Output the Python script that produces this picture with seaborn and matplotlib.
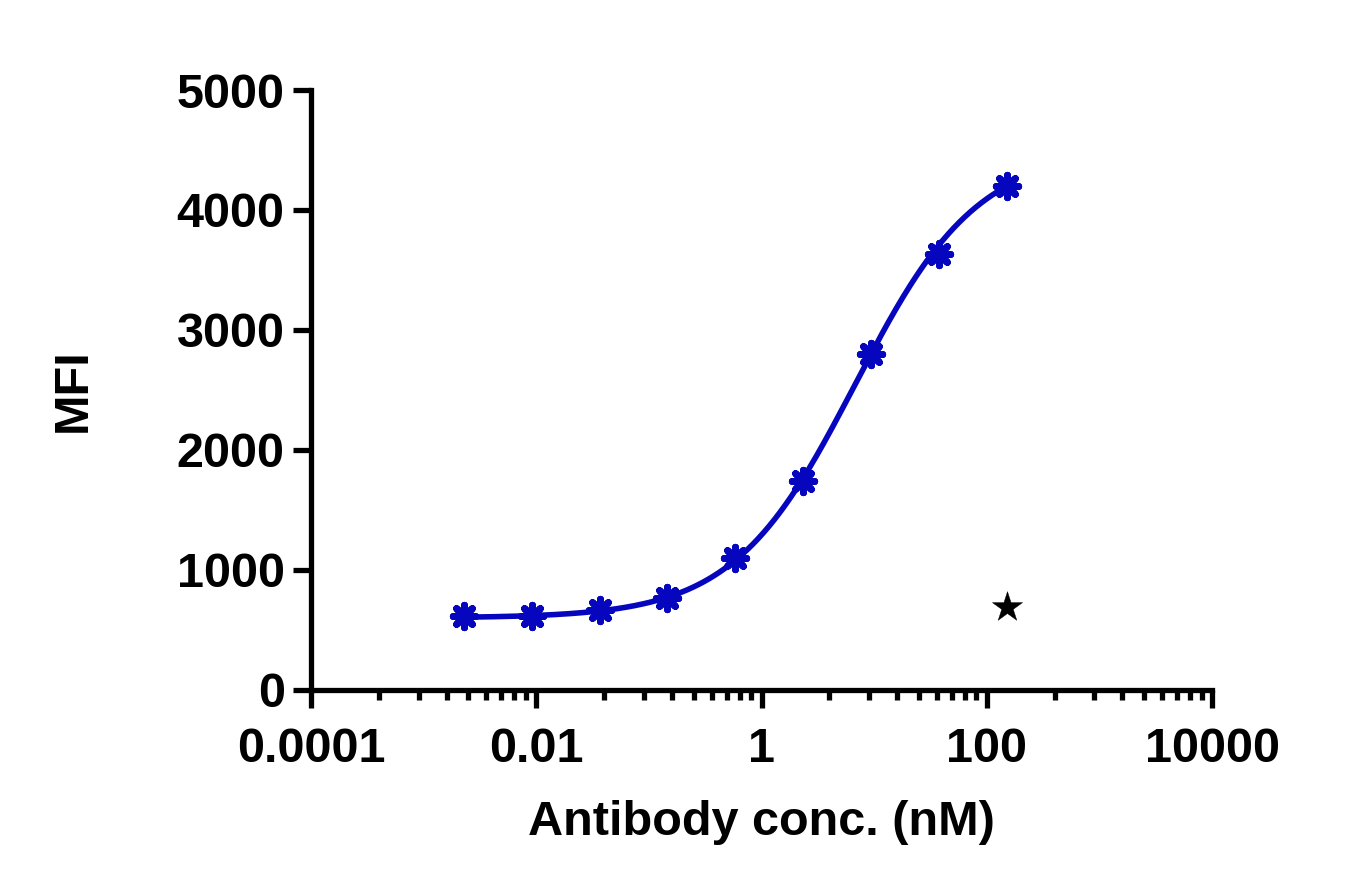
import numpy as np
import pandas as pd
import seaborn as sns
import matplotlib
matplotlib.use('Agg')
import matplotlib.pyplot as plt
from matplotlib.ticker import FixedLocator, NullFormatter

# antibody dilution series (nM) and measured MFI
conc = [150, 37.5, 9.375, 2.34, 0.586, 0.146, 0.0366, 0.00916, 0.00229]
mfi = [4200, 3633, 2800, 1742, 1100, 767, 667, 617, 617]

# control point
ctrl_conc = [150]
ctrl_mfi = [692]

# 4PL fit parameters
bottom, top, ec50, hill = 600, 4500, 6.8, 0.8

x_major = [0.0001, 0.01, 1, 100, 10000]
x_labels = ['0.0001', '0.01', '1', '100', '10000']
y_major = [0, 1000, 2000, 3000, 4000, 5000]

blue = '#0606BE'

sns.set_style('ticks')
plt.rcParams['font.family'] = ['Liberation Sans', 'DejaVu Sans']
plt.rcParams['font.weight'] = 'bold'
for k in ['text.color', 'axes.labelcolor', 'xtick.color', 'ytick.color', 'axes.edgecolor']:
    plt.rcParams[k] = 'black'

fig = plt.figure(figsize=(13.66, 8.92), dpi=100)
ax = fig.add_axes([0.2277, 0.2265, 0.6596, 0.6726])

xs = np.logspace(np.log10(min(conc)), np.log10(max(conc)), 300)
fit = pd.DataFrame({'x': xs, 'y': bottom + (top - bottom) / (1 + (ec50 / xs) ** hill)})
sns.lineplot(data=fit, x='x', y='y', ax=ax, color=blue, linewidth=4.0, zorder=2)

pts = pd.DataFrame({'x': conc, 'y': mfi})
sns.scatterplot(data=pts, x='x', y='y', ax=ax, marker=(8, 2, 0), s=260, color=blue,
                linewidth=5.0, zorder=3)
sns.scatterplot(data=pts, x='x', y='y', ax=ax, marker='o', s=70, color=blue,
                edgecolor=blue, linewidth=0, zorder=3)

sns.scatterplot(x=ctrl_conc, y=ctrl_mfi, ax=ax, marker='*', s=520, color='black',
                edgecolor='black', linewidth=0.3, zorder=3)

ax.set_xscale('log')
ax.set_xlim(0.0001, 10000)
ax.set_ylim(0, 5000)
ax.xaxis.set_major_locator(FixedLocator(x_major))
ax.set_xticklabels(x_labels)
minors = [10.0 ** (-4 + 2 * j) * k * k for j in range(4) for k in range(2, 10)]
ax.xaxis.set_minor_locator(FixedLocator(minors))
ax.xaxis.set_minor_formatter(NullFormatter())
ax.set_yticks(y_major)
ax.set_yticklabels([str(v) for v in y_major])

for s in ['top', 'right']:
    ax.spines[s].set_visible(False)
for s in ['left', 'bottom']:
    ax.spines[s].set_linewidth(3.8)
ax.spines['bottom'].set_bounds(0.0001, 10000)

ax.tick_params(axis='both', which='major', length=13, width=3.8, labelsize=35, pad=6)
ax.tick_params(axis='x', which='major', pad=14)
ax.tick_params(axis='x', which='minor', length=7, width=3.8)
for lab in ax.get_xticklabels() + ax.get_yticklabels():
    lab.set_fontweight('bold')

ax.set_xlabel('Antibody conc. (nM)', fontsize=35, fontweight='bold', labelpad=20)
ax.set_ylabel('MFI', fontsize=35, fontweight='bold', labelpad=58)

fig.savefig('out.png', dpi=100)
